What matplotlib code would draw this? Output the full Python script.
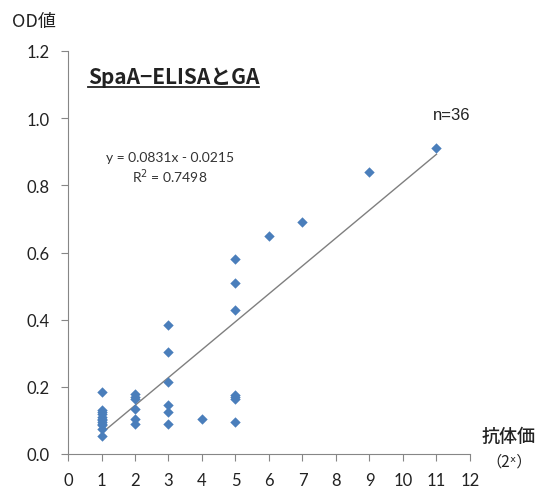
import matplotlib
matplotlib.use("Agg")
import matplotlib.pyplot as plt
import numpy as np
from matplotlib.lines import Line2D

plt.rcParams['font.family'] = ['Lato', 'Noto Sans CJK JP', 'DejaVu Sans']

# Data (antibody titer exponent vs OD value)
x_vals = [1]*12 + [2]*6 + [3]*6 + [4] + [5]*7 + [6, 7, 9, 11]
y_vals = [0.185, 0.13, 0.125, 0.12, 0.11, 0.105, 0.10, 0.095, 0.09, 0.085, 0.075, 0.055,
          0.18, 0.17, 0.165, 0.135, 0.105, 0.09,
          0.385, 0.305, 0.215, 0.145, 0.125, 0.09,
          0.105,
          0.58, 0.51, 0.43, 0.175, 0.17, 0.165, 0.095,
          0.65, 0.69, 0.84, 0.91]
trend_slope = 0.0831
trend_intercept = -0.0215
x_ticks = list(range(0, 13))
y_ticks = [0.0, 0.2, 0.4, 0.6, 0.8, 1.0, 1.2]
title = "SpaA−ELISAとGA"
eq_text = "y = 0.0831x - 0.0215\nR$^2$ = 0.7498"

fig = plt.figure(figsize=(5.42, 4.89), dpi=100)
ax = fig.add_axes([68/542, 34/489, 402/542, 403/489])

x = np.array(x_vals, dtype=float)
y = np.array(y_vals, dtype=float)
ax.scatter(x, y, marker='D', s=28, color='#4A7EBB', zorder=3, linewidths=0)

xl = np.array([x.min(), x.max()])
ax.plot(xl, trend_slope * xl + trend_intercept, color='#7F7F7F', lw=1.0, zorder=2)

ax.set_xlim(0, 12)
ax.set_ylim(0, 1.2)
ax.set_xticks(x_ticks)
ax.set_yticks(y_ticks)
ax.set_yticklabels([f"{v:.1f}" for v in y_ticks])
for s in ['top', 'right']:
    ax.spines[s].set_visible(False)
for s in ['left', 'bottom']:
    ax.spines[s].set_color('#868686')
    ax.spines[s].set_linewidth(0.8)
ax.tick_params(axis='both', direction='out', length=5, color='#868686',
               labelsize=12, labelcolor='#222222', pad=8)

cjk = ['Noto Sans CJK JP', 'DejaVu Sans']
fig.text(12/542, 1 - 22/489, "OD値", fontsize=13, va='center', ha='left',
         family=cjk, color='#222222')
fig.text(509/542, 1 - 437/489, "抗体価", fontsize=13, va='center', ha='center',
         family=cjk, fontweight='medium', color='#222222')
fig.text(509/542, 1 - 462/489, "（2ˣ）", fontsize=11, va='center', ha='center',
         family=cjk, color='#222222')

t = fig.text(88/542, 1 - 78/489, title, fontsize=15, fontweight='bold',
             va='center', ha='left', color='#222222', family=cjk)
fig.canvas.draw()
bb = t.get_window_extent().transformed(fig.transFigure.inverted())
fig.add_artist(Line2D([bb.x0, bb.x1], [bb.y0 + 0.002, bb.y0 + 0.002],
                      transform=fig.transFigure, color='#222222', lw=1.3))

fig.text(452/542, 1 - 115/489, "n=36", fontsize=12, va='center', ha='center',
         color='#222222', family=['Liberation Sans', 'DejaVu Sans'])
fig.text(170/542, 1 - 169/489, eq_text, fontsize=10, va='center', ha='center',
         color='#333333', linespacing=1.25)

fig.savefig("out.png", dpi=100)
